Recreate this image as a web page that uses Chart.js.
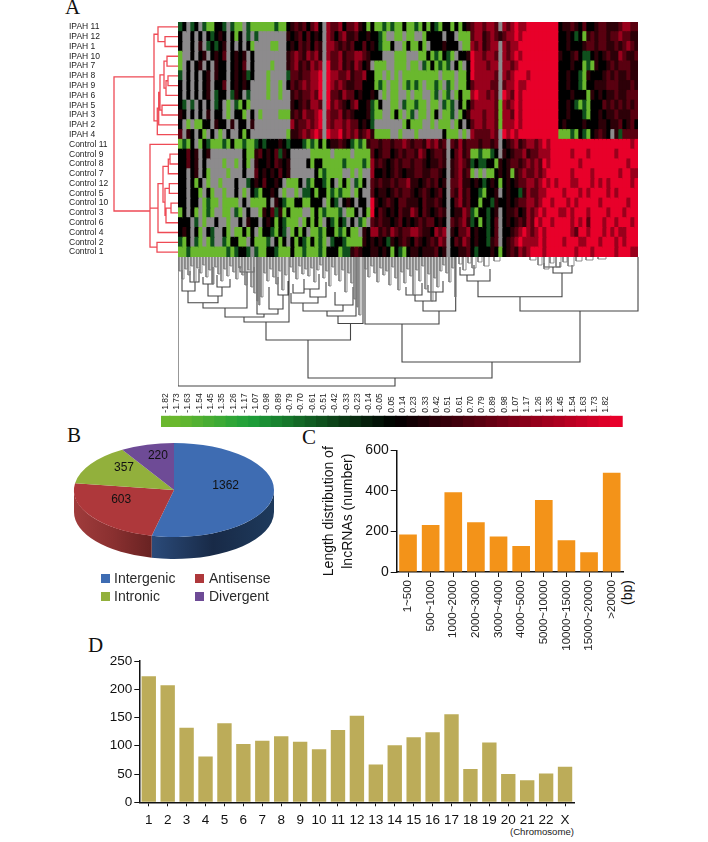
<!DOCTYPE html>
<html>
<head>
<meta charset="utf-8">
<title>lncRNA figure</title>
<script src="https://cdn.jsdelivr.net/npm/chart.js@4"></script>
<style>
body { margin: 0; background: #fff; width: 708px; height: 842px; position: relative; overflow: hidden; font-family: "Liberation Sans", Arial, sans-serif; }
canvas { position: absolute; }
.letter { position: absolute; font: 21px/21px "Liberation Serif", serif; color: #111; }
.legendText { position: absolute; font-size: 14px; line-height: 16px; color: #2b2b2b; }
.legendBox { position: absolute; width: 9px; height: 9px; }
</style>
</head>
<body>
<div class="letter" style="left:65px;top:-3px">A</div>
<div class="letter" style="left:67px;top:425px">B</div>
<div class="letter" style="left:302px;top:427px">C</div>
<div class="letter" style="left:88px;top:635px">D</div>
<div class="legendText" style="left:619px;top:580px;writing-mode:vertical-rl;transform:rotate(180deg);color:#111">(bp)</div>
<div class="legendText" style="left:510px;top:826px;font-size:9.6px;line-height:12px;color:#222">(Chromosome)</div>

<script>
// panel A - row labels, one per heatmap row
const rowLabels = ['IPAH 11','IPAH 12','IPAH 1','IPAH 10','IPAH 7','IPAH 8','IPAH 9','IPAH 6','IPAH 5','IPAH 3','IPAH 2','IPAH 4',
    'Control 11','Control 9','Control 8','Control 7','Control 12','Control 5','Control 10','Control 3','Control 6','Control 4','Control 2','Control 1'];

// heatmap cells, a = greenest ... k = black ... g = reddest, x = missing (grey)
const heatRows = [
    'ckxckxcaak kcxcaaxca aaaaacaak dedekefkxf eefkeefdkak aacacaakaacakakcakkakakd effeffe x fefgffgggggggg kddedkekkdeedddeffee',
    'kxxkxkxkck dkxkakxcx cxxxxxxxd kdekekdkxf ekefddekkdk kcaxxaaxaaxxakkkkxkkxaaa effdefe d effgfggggggggg kkdkckadedeedeefeedd',
    'kxxkxdxckc kdxkxkxka xxxxaaxxk dkedekedxf fededekkekd kcaakxxakaakaxkkkdkkkxaa fefdeff x feffgggggggggg kkdkkkdeedeeddedefed',
    'axxkxkdxkd kexkdkdxk xxxxxxxxd efedfefdxf eefdeeffedk kkxxxaaaxxxaakacakcaxkkd gffeffe x fefgfggggggggg dkkdekcckdkdeddfedde',
    'axkxkdxkxd kkxkdkexk xxxxaxxxd efdedfefxg eefdedfekdx aaaxxaaaxaaxcakacacxkaxk gfffeff x ffefgggggggggg kkkdkkacadkkdedeeedd',
    'cxkxkxkdxd kkxkdkdck xxxaxxxxc eedeeffgxg ffeefdeefkk aaxaxaxaaaaaaaaaxaaaxaak gfffffe x fefgggfggggggg kkdkkcadkkkdededdedd',
    'kxkxkxkdxk kexkdkdkx xxxaxxaxk edefeffgxg fefeddeekkk acaxaaxacacaxaacaxcaxaak effffee x effgffgggggggg kkdkkcakkdddeeeddded',
    'kxkxkxkdxc kkxcdkxcx xxxaxxaxx dedeefegxg eedfeekdkkd kxaxaaxxaxaaxxacxacxakaa fgffefe x gfegfggggggggg kkkdkkkadkdkddeddeee',
    'kcxcxkxkxc kxaxcakax xxxxxxxxx dkdedffexg efedkefkkdc akxxaaxcaacaaxaaxcacxkak efffffe a fefgfggggggggg kkdkcacakkkedededede',
    'dkxkxkxdxk kxaxkkaxk xaxxxxaaa dedfeefgxf eefdedkkkdc aaxxakaxacxaaxakxaacxakd fffeffe a ffegfggggggggg kkdkkkcakkdkddedddee',
    'kxaxaakkxd kkxdxkkxd xxxxxxxxx fdeefefgxf effefeekdkc xxxxxxxakaaaxxaxaaaxakxk effeffe a fffgfggggggggg kdkkkkdkkkddkddekdek',
    'exdkxkaxkx axkxxkakx xxxxxxxxa ddefefgfxg ffgefefdefd aaaaxxaxxxaxxxxxxkaaaxax feeeefe x gfgfgggggggggg aaacakcakdedkxdceeee',
    'acakxakcaa acakaacaa ckckkkdkc kkkcacakak ddedkcacade edeedeefedeedfefdexedfde eedeede x kdefdeffefgfgg ggggggggggggggggggfg',
    'kkekdxkdxx xxxxxxkaa dekdkecdk xxxxxaaaaa xaaaaxaaaae kdeekdedeedfekdeedxkefde aacaack x dkdeefdeefffgg gggfgggfggggggfggggg',
    'kkekdxkxxx xaxxaxkax dkkdkedkd xxxxkakkaa aaacaaaacaf dedkdedeedeedkddedxdefed ckcckka d kdeedefefegfgg gggggfgggggggggggfgg',
    'kkxkdxkaxx xxaxxxkxx ekdkdkekd xxxxxxkaca aaaxxaxaxxf kkdkdedkddeeddeedkxdefde axaxaak d kdadefeefefggg gggfggggfggggggfggff',
    'kkxkakxaxx axxxkxxck dkekkdkxa aakxcakkca kxakaxcakxe deddedeefddkdedekdxeefdd kdkckdk a kdkdeeffefgfgf gggffgggfgfgfgggggfg',
    'kkxkkaxkax xaxxkxaxk cakkdkxax xaxcckakka cacaaxakxxe kddkdedeedkdedkdekxedfde kkcakkd x kdkkcdfeeffggg gfgggfgfggggfgfggggg',
    'kkxkkxacaa xaaaaxkxa aaakxdkca akkaakkkxa kcxkdkxkkxg dkdedkeedddkeddedkxkefde kkakkcd k kdkdeeffefggfg ggfgfgggggfggggggfgg',
    'akxkaxacax xaaxcaxkx xadkecdak aaaxxakaca aacxaakxkag kedkdkeddfekedkdedxkddfe cakkckd x kddekdfefgfggg ffgfgggfggggfgggfggg',
    'kkkxcxaxxk xxaxxkxdk kxkdkakca aaxakakaxk cakcxkxcaxe deddkdekdkdedeekdkxedefd ckakcke x kdkdedfegfggfg gggfgfgegggfggfgggfg',
    'kdkxkaxkcx xkaxaakak xakkcakcx akakxaacak kacakaaxdkf fdedfedeeffeddkfefxdkeef kdkkcke x kkdefgfefgfggg gggfeggfgggfgfgffggg',
    'cakxcaxacx xcakkaaxk aaacxkakx kakcakacax ckkcaaaadkd kdkcdkdedkedkdedfexkedfe kdkkcde x kdefgffffgfggg gfgggffgggfgggfgfggg',
    'aacaaaaaaa aacackkcx caakkcaaa kaacaaacak kkaccdedkkd dkdkakcakddkdddekdxkkdde kckkkdk a kdedfefgggfggg ggggfgggfgggggfgggff'
];
const levelValues = {a: -1.82, b: -1.2, c: -0.6, k: 0, d: 0.35, e: 0.7, f: 1.2, g: 1.82};

// row tree: [height, row top, row bottom, top child height, bottom child height]
const rowMerges = [
    [13,1,2,0,0],[20,0,1.5,0,13],[11,3,4,0,0],[10,5,6,0,0],[12,5.5,7,10,0],[14,3.5,6.25,11,12],
    [16,8,9,0,0],[18,4.9,8.5,14,16],[19.3,6.7,10,18,0],[20.7,8.3,11,19.3,0],[24,0.75,9.6,20,20.7],
    [64,5.1,18.8,24,28],
    [8,13,14,0,0],[9.7,13.5,15,8,0],[8.7,16,17,0,0],[7,18,19,0,0],[12,18.5,20,7,0],[13,16.5,19.25,8.7,12],
    [15,14.25,17.9,9.7,13],[20,16,21,15,0],[28,12,18.5,0,20],[21,22,23,0,0],[28,15.25,22.5,28,21]
];

// column tree, big joins: [depth, left, right, left child depth, right child depth]
const colMerges = [
    [129,0,217,0,121],[121,130,314,83,105],[83,88,172.5,65,66.5],[65,66,111,60,0],[60,47,86,51,57],[57,79,100,0,52],
    [52,91,105,30,38],[38,100,110,20,24],[51,25,69,45.7,15],[45.7,10,40,34,39],[34,4,17,13,25],[25,12,21,14,12],
    [39,30,44,27,30],[30,39,52,18,22],[27,25,35,20,10],[15,62,76,9,10],
    [66.5,160,185,59,0],[59,149,178,54,0],[54,125,165,46,48],[48,157,175,35,30],[46,113,140,36,40],[40,132,148,32,25],
    [36,115,126,27,22],[32,126,141,22,17],
    [105,224,402,67,54],[67,187,261,0,54],[54,245,277.7,44,0],[44,237,258,38,35],[38,228,244,30,26],[35,250,265,28,24],
    [54,342,460,39.7,0],[39.7,300,384,24,16],[24,289,312,18,12],[18,282,296,10,8],[16,375,394,10,8],[10,366,382,6,5]
];
// small joins close to the heatmap: [depth, left, right]
const colLeaves = [
    [14,1,3],[22,4,6],[12,7,9],[18,10,12],[9,13,15],[25,16,18],[11,19,21],[16,22,24],[8,25,27],[20,28,30],[13,31,33],[27,34,36],
    [10,37,39],[17,40,42],[24,43,45],[12,46,48],[19,49,51],[9,52,54],[15,55,57],[22,58,60],[11,61,63],[18,64,66],[28,67,69],[13,70,72],
    [30,73,75],[36,76,78],[44,79,80],[48,81,82],[40,83,85],[16,86,88],[24,89,91],[12,92,94],[20,95,97],[27,98,100],[14,101,103],[33,104,106],
    [18,107,109],[10,112,114],[15,115,117],[22,118,120],[9,121,123],[17,124,126],[12,127,129],[19,130,132],[11,133,135],[25,136,138],[13,139,141],[8,142,144],
    [21,145,147],[14,148,150],[29,151,153],[10,154,156],[18,157,159],[24,161,163],[13,164,166],[35,167,169],[16,170,172],[26,173,175],[42,176,178],[50,179,180],
    [58,181,183],[12,187,189],[20,190,192],[9,193,195],[16,196,198],[25,199,201],[11,202,204],[18,205,207],[14,208,210],[28,211,213],[10,214,216],[21,217,219],
    [33,220,222],[15,223,225],[26,226,228],[12,229,231],[19,232,234],[38,235,237],[13,238,240],[24,241,243],[9,244,246],[32,247,249],[17,250,252],[44,253,255],
    [21,256,258],[30,259,261],[14,262,264],[8,265,267],[16,268,270],[25,271,273],[11,274,276],[40,277,278],[7,281,284],[13,285,288],[6,290,293],[11,294,298],
    [5,300,304],[9,306,311],[4,316,322],[3,352,358],[8,360,364],[12,366,371],[6,372,376],[10,378,383],[5,385,389],[9,390,396],[4,398,404],[3,408,415],[2,420,428]
];

const colorbarLabels = ['-1.82','-1.73','-1.63','-1.54','-1.45','-1.35','-1.26','-1.17','-1.07','-0.98','-0.89','-0.79','-0.70','-0.61','-0.51','-0.42','-0.33','-0.23','-0.14','-0.05',
    '0.05','0.14','0.23','0.33','0.42','0.51','0.61','0.70','0.79','0.89','0.98','1.07','1.17','1.26','1.35','1.45','1.54','1.63','1.73','1.82'];

// panel B
const pieLabels = ['Intergenic', 'Antisense', 'Intronic', 'Divergent'];
const pieValues = [1362, 603, 357, 220];
const pieColors = ['#3e6cb2', '#ae383b', '#92b03c', '#6e4b96'];

// panel C
const lengthLabels = ['1~500','500~1000','1000~2000','2000~3000','3000~4000','4000~5000','5000~10000','10000~15000','15000~20000','>20000'];
const lengthValues = [185, 232, 393, 245, 175, 128, 355, 157, 97, 490];

// panel D
const chromLabels = ['1','2','3','4','5','6','7','8','9','10','11','12','13','14','15','16','17','18','19','20','21','22','X'];
const chromValues = [223, 207, 132, 81, 140, 103, 109, 117, 107, 94, 128, 153, 67, 101, 115, 124, 156, 59, 106, 50, 39, 51, 63];

Chart.defaults.font.family = '"Liberation Sans", Arial, sans-serif';
Chart.defaults.animation = false;
Chart.defaults.responsive = false;
Chart.defaults.plugins.legend.display = false;
Chart.defaults.plugins.tooltip.enabled = false;

function addCanvas(left, top, width, height) {
    const c = document.createElement('canvas');
    c.width = width;
    c.height = height;
    c.style.left = left + 'px';
    c.style.top = top + 'px';
    document.body.appendChild(c);
    return c.getContext('2d');
}

function mix(a, b, t) {
    return a.map((v, i) => Math.round(v + (b[i] - v) * t));
}

// green - black - red colour scale used by the heatmap and its colour bar
function heatColor(v) {
    let rgb;
    if (v < 0) {
        const t = -v / 1.82;
        rgb = t < 0.66 ? mix([0, 0, 0], [30, 160, 58], t / 0.66) : mix([30, 160, 58], [106, 184, 46], (t - 0.66) / 0.34);
    } else {
        rgb = mix([0, 0, 0], [232, 0, 42], v / 1.82);
    }
    return 'rgb(' + rgb.join(',') + ')';
}

// ---------- heatmap ----------
const heatCells = heatRows.map(r => r.replace(/ /g, '').split(''));
const heatDatasets = [];
for (let c = 0; c < heatCells[0].length; c++) {
    heatDatasets.push({
        data: heatCells.map(() => 1),
        backgroundColor: heatCells.map(r => r[c] === 'x' ? '#8d8b8d' : heatColor(levelValues[r[c]])),
        barThickness: 10.4,
        borderWidth: 0
    });
}
const heatCtx = addCanvas(178, 22, 460, 235);
heatCtx.canvas.style.filter = 'blur(0.5px)';
new Chart(heatCtx, {
    type: 'bar',
    data: { labels: rowLabels, datasets: heatDatasets },
    options: {
        indexAxis: 'y',
        layout: { autoPadding: false },
        scales: {
            x: { stacked: true, display: false, min: 0, max: heatCells[0].length },
            y: { stacked: true, display: false }
        }
    }
});

// turn a list of joins into one broken line for a scatter dataset
function rowTreePoints(merges) {
    const pts = [];
    merges.forEach(m => {
        pts.push({x: m[3], y: m[1]}, {x: m[0], y: m[1]}, {x: m[0], y: m[2]}, {x: m[4], y: m[2]}, {x: null, y: null});
    });
    return pts;
}
function colTreePoints(merges) {
    const pts = [];
    merges.forEach(m => {
        pts.push({x: m[1], y: m[3] || 0}, {x: m[1], y: m[0]}, {x: m[2], y: m[0]}, {x: m[2], y: m[4] || 0}, {x: null, y: null});
    });
    return pts;
}

// ---------- row labels and red tree ----------
new Chart(addCanvas(69, 12, 109, 255), {
    type: 'scatter',
    data: { datasets: [{
        data: rowTreePoints(rowMerges),
        showLine: true,
        spanGaps: false,
        borderColor: '#ee4a55',
        borderWidth: 1.3,
        pointRadius: 0,
        clip: false
    }] },
    options: {
        layout: { autoPadding: false, padding: { top: 10, bottom: 10 } },
        scales: {
            x: { display: false, min: 0, max: 64, reverse: true },
            y: {
                min: -0.5, max: 23.5, reverse: true,
                grid: { display: false }, border: { display: false },
                afterFit: s => { s.width = 45; },
                afterBuildTicks: s => { s.ticks = rowLabels.map((l, i) => ({value: i})); },
                ticks: {
                    autoSkip: false, crossAlign: 'far', padding: 0, color: '#222',
                    font: { size: 8.5 },
                    callback: (v, i) => rowLabels[i]
                }
            }
        }
    }
});

// ---------- column tree ----------
new Chart(addCanvas(178, 257, 462, 131), {
    type: 'scatter',
    data: { datasets: [
        { data: colTreePoints(colLeaves), showLine: true, spanGaps: false, borderColor: '#777', borderWidth: 0.8, pointRadius: 0, clip: false },
        { data: colTreePoints(colMerges), showLine: true, spanGaps: false, borderColor: '#444', borderWidth: 1.1, pointRadius: 0, clip: false }
    ] },
    options: {
        layout: { autoPadding: false },
        scales: {
            x: { display: false, min: 0, max: 462 },
            y: { display: false, min: 0, max: 131, reverse: true }
        }
    }
});

// ---------- colour bar ----------
const colorbarX = [-1].concat(colorbarLabels.map((l, i) => i));
new Chart(addCanvas(161, 388, 463, 39), {
    type: 'bar',
    data: { datasets: [{
        data: colorbarX.map(i => ({x: i, y: 1})),
        backgroundColor: colorbarX.map(i => heatColor(parseFloat(colorbarLabels[Math.max(i, 0)]))),
        barThickness: 12.2,
        borderWidth: 0
    }] },
    options: {
        layout: { autoPadding: false },
        scales: {
            x: {
                type: 'linear', position: 'top', min: -0.776, max: 39.17,
                grid: { display: false, drawTicks: false }, border: { display: false },
                afterFit: s => { s.height = 27.7; },
                afterBuildTicks: s => { s.ticks = colorbarLabels.map((l, i) => ({value: i})); },
                ticks: {
                    autoSkip: false, minRotation: 90, maxRotation: 90, padding: 3, color: '#222',
                    font: { family: '"Liberation Sans Narrow", "Liberation Sans", sans-serif', size: 8.5 },
                    callback: (v, i) => colorbarLabels[i]
                }
            },
            y: { display: false, min: 0, max: 1 }
        }
    }
});

// ---------- pie, flattened and extruded to look like the 3d one ----------
const pieFlat = 0.47;
const pieDepth = 22;
const pieSides = [['#2b4b7a', '#182a47', '#1e3a5c'], ['#a03c3c', '#8a3030', '#682222']];
const pie3d = {
    id: 'pie3d',
    beforeDatasetsDraw(chart) {
        const ctx = chart.ctx;
        const arcs = chart.getDatasetMeta(0).data;
        const cx = arcs[0].x, cy = arcs[0].y, r = arcs[0].outerRadius, ry = r * pieFlat;
        arcs.forEach((a, i) => {
            const from = Math.max(a.startAngle, 0), to = Math.min(a.endAngle, Math.PI);
            if (to <= from || !pieSides[i]) return;
            const g = ctx.createLinearGradient(cx + r * Math.cos(to), 0, cx + r * Math.cos(from), 0);
            pieSides[i].forEach((col, k) => g.addColorStop(k / 2, col));
            ctx.beginPath();
            ctx.ellipse(cx, cy, r, ry, 0, from, to);
            ctx.ellipse(cx, cy + pieDepth, r, ry, 0, to, from, true);
            ctx.closePath();
            ctx.fillStyle = g;
            ctx.fill();
        });
        ctx.save();
        ctx.translate(cx, cy);
        ctx.scale(1, pieFlat);
        ctx.translate(-cx, -cy);
    },
    afterDatasetsDraw(chart) {
        const ctx = chart.ctx;
        ctx.restore();
        const arcs = chart.getDatasetMeta(0).data;
        ctx.font = '12px "Liberation Sans", sans-serif';
        ctx.fillStyle = '#111';
        ctx.textAlign = 'center';
        ctx.textBaseline = 'middle';
        const reach = [0.52, 0.64, 0.6, 0.6];
        arcs.forEach((a, i) => {
            const mid = (a.startAngle + a.endAngle) / 2;
            ctx.fillText(pieValues[i], a.x + a.outerRadius * reach[i] * Math.cos(mid),
                a.y - 7 + a.outerRadius * reach[i] * pieFlat * Math.sin(mid));
        });
    }
};
new Chart(addCanvas(69, 385, 210, 210), {
    type: 'pie',
    data: { labels: pieLabels, datasets: [{ data: pieValues, backgroundColor: pieColors, borderWidth: 0 }] },
    options: { layout: { autoPadding: false }, radius: 100 },
    plugins: [pie3d]
});

// legend of the pie, two rows of two
const legendX = [[101, 114], [195, 209]];
pieLabels.forEach((name, i) => {
    const top = i < 2 ? 574 : 592;
    const box = document.createElement('div');
    box.className = 'legendBox';
    box.style.cssText = 'left:' + legendX[i % 2][0] + 'px;top:' + top + 'px;background:' + pieColors[i];
    document.body.appendChild(box);
    const t = document.createElement('div');
    t.className = 'legendText';
    t.style.cssText = 'left:' + legendX[i % 2][1] + 'px;top:' + (top - 4) + 'px';
    t.textContent = name;
    document.body.appendChild(t);
});

// ---------- panel C ----------
new Chart(addCanvas(320, 440, 320, 215), {
    type: 'bar',
    data: { labels: lengthLabels, datasets: [{ data: lengthValues, backgroundColor: '#f39319', barPercentage: 0.78, categoryPercentage: 1 }] },
    options: {
        layout: { autoPadding: false, padding: { top: 10, right: 17 } },
        scales: {
            x: {
                grid: { drawOnChartArea: false, offset: false, tickLength: 5, color: '#111', lineWidth: 1 },
                border: { color: '#111', width: 1.5 },
                afterFit: s => { s.height = 83; },
                ticks: { autoSkip: false, minRotation: 90, maxRotation: 90, padding: 3, color: '#222', font: { size: 11.5 } }
            },
            y: {
                min: 0, max: 600,
                grid: { drawOnChartArea: false, tickLength: 6, color: '#111', lineWidth: 1 },
                border: { color: '#111', width: 1.5 },
                afterFit: s => { s.width = 76.7; },
                afterBuildTicks: s => { s.ticks = [0, 200, 400, 600].map(v => ({value: v})); },
                title: { display: true, text: ['Length distribution of', 'lncRNAs (number)'], color: '#111', font: { size: 14, lineHeight: 1.35 }, padding: 0 },
                ticks: { color: '#111', padding: 2, font: { size: 14 } }
            }
        }
    }
});

// ---------- panel D ----------
new Chart(addCanvas(100, 650, 490, 192), {
    type: 'bar',
    data: { labels: chromLabels, datasets: [{ data: chromValues, backgroundColor: '#bcac59', barPercentage: 0.76, categoryPercentage: 1 }] },
    options: {
        layout: { autoPadding: false, padding: { top: 11, right: 15.5 } },
        scales: {
            x: {
                grid: { drawOnChartArea: false, offset: false, tickLength: 4, color: '#111', lineWidth: 1 },
                border: { color: '#111', width: 1.5 },
                afterFit: s => { s.height = 39.7; },
                ticks: { autoSkip: false, maxRotation: 0, padding: 6, color: '#111', font: { size: 13.5 } }
            },
            y: {
                min: 0, max: 250,
                grid: { drawOnChartArea: false, tickLength: 5, color: '#111', lineWidth: 1 },
                border: { color: '#111', width: 1.5 },
                afterFit: s => { s.width = 39.3; },
                ticks: { stepSize: 50, color: '#111', padding: 2, font: { size: 13.5 } }
            }
        }
    }
});
</script>
</body>
</html>
